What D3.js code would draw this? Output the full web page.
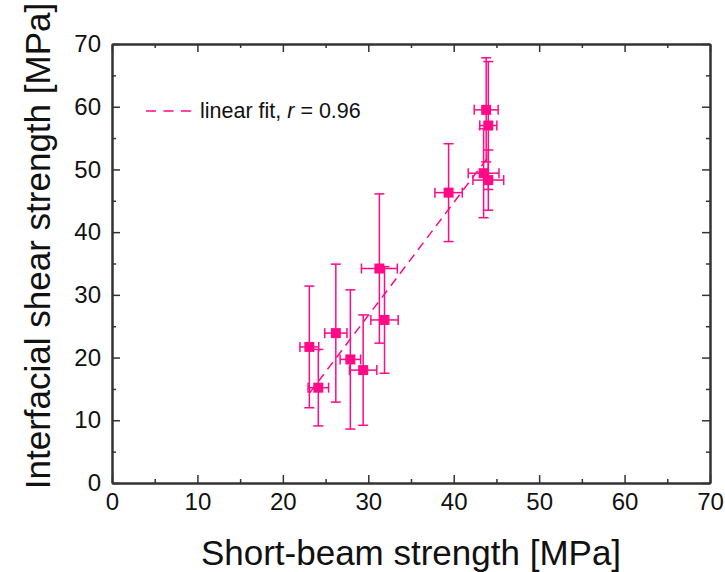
<!DOCTYPE html>
<html lang="en">
<head>
  <meta charset="UTF-8">
  <title>Interfacial vs short-beam strength</title>
  <script src="https://d3js.org/d3.v7.min.js" charset="utf-8"></script>
  <style>
    body {
      margin: 0;
      background: #ffffff;
      font-family: Arial, 'Liberation Sans', sans-serif;
    }
    svg text {
      fill: #111111;
    }
  </style>
</head>
<body>
  <div id="wrapper"></div>
  <script>
    // short-beam strength (x) and interfacial shear strength (y), MPa
    const sbs      = [23.1, 24.15, 26.2, 27.9, 29.4, 31.3, 31.9, 39.4, 43.8, 44.05, 43.5, 44.05]
    const sbsErr   = [1.1, 1.2, 1.3, 1.2, 1.6, 2.1, 1.6, 1.6, 1.4, 1.0, 1.8, 1.8]
    const iss      = [21.7, 15.2, 23.9, 19.7, 18.0, 34.2, 26.0, 46.3, 59.5, 57.0, 49.4, 48.3]
    const issErr   = [9.7, 6.1, 11.0, 11.1, 8.8, 11.9, 8.5, 7.8, 8.3, 10.2, 7.1, 4.8]

    // linear fit end points
    const fitX = [23.1, 44.05]
    const fitY = [14.3, 52.0]

    const majorTicks = [0, 10, 20, 30, 40, 50, 60, 70]
    const minorTicks = [5, 15, 25, 35, 45, 55, 65]

    const color = "#ff0a87"
    const axisColor = "#333333"

    const dataset = sbs.map((x, i) => ({ x, xe: sbsErr[i], y: iss[i], ye: issErr[i] }))

    const dimensions = {
      width: 725,
      height: 572,
      margin: { top: 44, right: 15, bottom: 89, left: 112 }
    }
    dimensions.boundedWidth = dimensions.width - dimensions.margin.left - dimensions.margin.right
    dimensions.boundedHeight = dimensions.height - dimensions.margin.top - dimensions.margin.bottom

    const wrapper = d3.select("#wrapper")
      .append("svg")
        .attr("width", dimensions.width)
        .attr("height", dimensions.height)

    const bounds = wrapper.append("g")
      .attr("transform", `translate(${dimensions.margin.left}, ${dimensions.margin.top})`)

    const xScale = d3.scaleLinear()
      .domain([0, 70])
      .range([0, dimensions.boundedWidth])

    const yScale = d3.scaleLinear()
      .domain([0, 70])
      .range([dimensions.boundedHeight, 0])

    // axes, ticks pointing inward on all four sides
    const styleAxis = g => {
      g.selectAll(".domain").attr("stroke", axisColor).attr("stroke-width", 2)
      g.selectAll(".tick line").attr("stroke", axisColor).attr("stroke-width", 1.5)
      g.selectAll(".tick text")
        .style("font-size", "24px")
        .style("font-family", "Arial, 'Liberation Sans', sans-serif")
        .attr("fill", "#111111")
    }

    bounds.append("g")
      .attr("transform", `translate(0, ${dimensions.boundedHeight})`)
      .call(d3.axisBottom(xScale).tickValues(majorTicks).tickSizeInner(-8).tickSizeOuter(0).tickPadding(10))
      .call(styleAxis)
    bounds.append("g")
      .attr("transform", `translate(0, ${dimensions.boundedHeight})`)
      .call(d3.axisBottom(xScale).tickValues(minorTicks).tickSizeInner(-4).tickSizeOuter(0).tickFormat(""))
      .call(styleAxis)

    bounds.append("g")
      .call(d3.axisTop(xScale).tickValues(majorTicks).tickSizeInner(-8).tickSizeOuter(0).tickFormat(""))
      .call(styleAxis)
    bounds.append("g")
      .call(d3.axisTop(xScale).tickValues(minorTicks).tickSizeInner(-4).tickSizeOuter(0).tickFormat(""))
      .call(styleAxis)

    bounds.append("g")
      .call(d3.axisLeft(yScale).tickValues(majorTicks).tickSizeInner(-8).tickSizeOuter(0).tickPadding(11))
      .call(styleAxis)
    bounds.append("g")
      .call(d3.axisLeft(yScale).tickValues(minorTicks).tickSizeInner(-4).tickSizeOuter(0).tickFormat(""))
      .call(styleAxis)

    bounds.append("g")
      .attr("transform", `translate(${dimensions.boundedWidth}, 0)`)
      .call(d3.axisRight(yScale).tickValues(majorTicks).tickSizeInner(-8).tickSizeOuter(0).tickFormat(""))
      .call(styleAxis)
    bounds.append("g")
      .attr("transform", `translate(${dimensions.boundedWidth}, 0)`)
      .call(d3.axisRight(yScale).tickValues(minorTicks).tickSizeInner(-4).tickSizeOuter(0).tickFormat(""))
      .call(styleAxis)

    // axis titles
    wrapper.append("text")
      .attr("x", dimensions.margin.left + dimensions.boundedWidth / 2)
      .attr("y", 565)
      .attr("text-anchor", "middle")
      .style("font-size", "35px")
      .text("Short-beam strength [MPa]")

    wrapper.append("text")
      .attr("transform", "translate(50, 246) rotate(-90)")
      .attr("text-anchor", "middle")
      .style("font-size", "35px")
      .text("Interfacial shear strength [MPa]")

    // fit line
    const fitLine = d3.line()
      .x(d => xScale(d[0]))
      .y(d => yScale(d[1]))

    bounds.append("path")
      .datum(fitX.map((x, i) => [x, fitY[i]]))
      .attr("d", fitLine)
      .attr("fill", "none")
      .attr("stroke", color)
      .attr("stroke-width", 1.5)
      .attr("stroke-dasharray", "9,6")

    // error bars
    const capHalf = 5
    const errs = bounds.append("g")
      .attr("stroke", color)
      .attr("stroke-width", 1.5)
      .attr("fill", "none")

    const points = errs.selectAll("g").data(dataset).join("g")

    points.append("line")
      .attr("x1", d => xScale(d.x)).attr("x2", d => xScale(d.x))
      .attr("y1", d => yScale(d.y - d.ye)).attr("y2", d => yScale(d.y + d.ye))
    points.append("line")
      .attr("x1", d => xScale(d.x) - capHalf).attr("x2", d => xScale(d.x) + capHalf)
      .attr("y1", d => yScale(d.y - d.ye)).attr("y2", d => yScale(d.y - d.ye))
    points.append("line")
      .attr("x1", d => xScale(d.x) - capHalf).attr("x2", d => xScale(d.x) + capHalf)
      .attr("y1", d => yScale(d.y + d.ye)).attr("y2", d => yScale(d.y + d.ye))

    points.append("line")
      .attr("x1", d => xScale(d.x - d.xe)).attr("x2", d => xScale(d.x + d.xe))
      .attr("y1", d => yScale(d.y)).attr("y2", d => yScale(d.y))
    points.append("line")
      .attr("x1", d => xScale(d.x - d.xe)).attr("x2", d => xScale(d.x - d.xe))
      .attr("y1", d => yScale(d.y) - capHalf).attr("y2", d => yScale(d.y) + capHalf)
    points.append("line")
      .attr("x1", d => xScale(d.x + d.xe)).attr("x2", d => xScale(d.x + d.xe))
      .attr("y1", d => yScale(d.y) - capHalf).attr("y2", d => yScale(d.y) + capHalf)

    // square markers
    const markerSize = 10
    bounds.append("g")
      .selectAll("rect")
      .data(dataset)
      .join("rect")
        .attr("x", d => xScale(d.x) - markerSize / 2)
        .attr("y", d => yScale(d.y) - markerSize / 2)
        .attr("width", markerSize)
        .attr("height", markerSize)
        .attr("fill", color)

    // legend
    const legend = wrapper.append("g")
      .attr("transform", "translate(146, 111)")
    legend.append("line")
      .attr("x1", 0).attr("x2", 45)
      .attr("y1", 0).attr("y2", 0)
      .attr("stroke", color)
      .attr("stroke-width", 1.5)
      .attr("stroke-dasharray", "10,7.5")
    const legendText = legend.append("text")
      .attr("x", 54)
      .attr("y", 7)
      .style("font-size", "21.5px")
    legendText.append("tspan").text("linear fit, ")
    legendText.append("tspan").style("font-style", "italic").text("r")
    legendText.append("tspan").text(" = 0.96")
  </script>
</body>
</html>
